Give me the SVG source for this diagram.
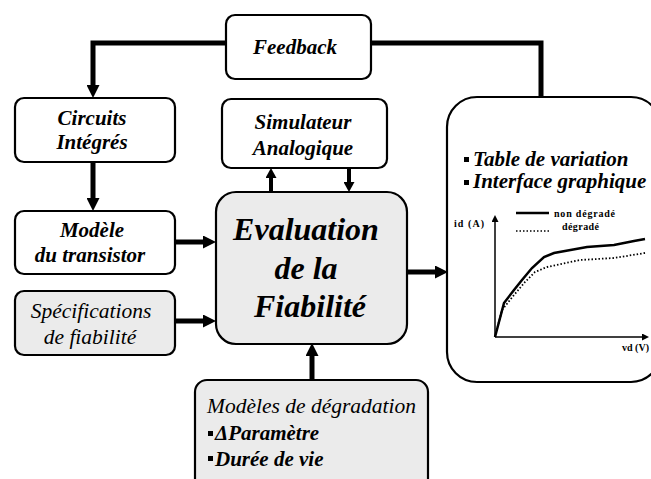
<svg xmlns="http://www.w3.org/2000/svg" width="651" height="479" viewBox="0 0 651 479">
  <style>
    .box { fill: #ffffff; stroke: #000000; stroke-width: 2.2; }
    .grey { fill: #ebebeb; stroke: #000000; stroke-width: 2.2; }
    text { font-family: "Liberation Serif", "Times New Roman", serif; fill: #000000; }
    .t { font-style: italic; font-weight: bold; font-size: 21px; }
    .tr { font-style: italic; font-weight: normal; font-size: 21.5px; }
    .big { font-style: italic; font-weight: bold; font-size: 32px; }
    .small { font-weight: bold; font-size: 10px; }
    .wire { fill: none; stroke: #000000; stroke-width: 5; }
    .wire4 { fill: none; stroke: #000000; stroke-width: 4; }
    .axis { fill: none; stroke: #000000; stroke-width: 1.5; }
    .bullet { fill: #000000; }
  </style>
  <defs>
    <marker id="head" markerUnits="userSpaceOnUse" markerWidth="13" markerHeight="13" refX="0" refY="6.5" orient="auto">
      <path d="M0,0 L13,6.5 L0,13 Z" fill="#000000"/>
    </marker>
    <marker id="headS" markerUnits="userSpaceOnUse" markerWidth="11" markerHeight="11" refX="0" refY="5.5" orient="auto">
      <path d="M0,0 L10,5.5 L0,11 Z" fill="#000000"/>
    </marker>
    <marker id="tiny" markerUnits="userSpaceOnUse" markerWidth="8" markerHeight="8" refX="0" refY="3.5" orient="auto">
      <path d="M0,0 L7,3.5 L0,7 Z" fill="#000000"/>
    </marker>
  </defs>

  <!-- connectors -->
  <g id="connectors">
    <path class="wire" d="M228,43 H93 V85" marker-end="url(#head)"/>
    <path class="wire" d="M370,43 H541 V98"/>
    <path class="wire" d="M93,162 V198" marker-end="url(#head)"/>
    <path class="wire" d="M175,242 H203" marker-end="url(#head)"/>
    <path class="wire" d="M175,321 H203" marker-end="url(#head)"/>
    <path class="wire4" d="M271,193 V178" marker-end="url(#headS)"/>
    <path class="wire4" d="M349,168 V182" marker-end="url(#headS)"/>
    <path class="wire" d="M312,380 V356" marker-end="url(#head)"/>
    <path class="wire" d="M407,272 H435" marker-end="url(#head)"/>
  </g>

  <!-- Feedback -->
  <g id="feedback">
    <rect class="box" x="226" y="15" width="145" height="64" rx="9"/>
    <text class="t" x="295" y="54" text-anchor="middle">Feedback</text>
  </g>

  <!-- Circuits Intégrés -->
  <g id="circuits">
    <rect class="box" x="15" y="98" width="160" height="64" rx="9"/>
    <text class="t" x="92" y="125" text-anchor="middle">Circuits</text>
    <text class="t" x="92" y="149" text-anchor="middle">Intégrés</text>
  </g>

  <!-- Modèle du transistor -->
  <g id="modele-transistor">
    <rect class="box" x="15" y="211" width="160" height="63" rx="9"/>
    <text class="t" x="92" y="237" text-anchor="middle">Modèle</text>
    <text class="t" x="90" y="262" text-anchor="middle">du transistor</text>
  </g>

  <!-- Spécifications de fiabilité -->
  <g id="specifications">
    <rect class="grey" x="15" y="291" width="160" height="64" rx="9"/>
    <text class="tr" x="91" y="318" text-anchor="middle">Spécifications</text>
    <text class="tr" x="90" y="344" text-anchor="middle">de fiabilité</text>
  </g>

  <!-- Simulateur Analogique -->
  <g id="simulateur">
    <rect class="box" x="222" y="99" width="165" height="69" rx="9"/>
    <text class="t" x="303" y="129" text-anchor="middle">Simulateur</text>
    <text class="t" x="303" y="155" text-anchor="middle">Analogique</text>
  </g>

  <!-- Evaluation de la Fiabilité -->
  <g id="evaluation">
    <rect class="grey" x="216" y="192" width="191" height="152" rx="20"/>
    <text class="big" x="306" y="240" text-anchor="middle">Evaluation</text>
    <text class="big" x="306" y="279" text-anchor="middle">de la</text>
    <text class="big" x="310" y="317" text-anchor="middle">Fiabilité</text>
  </g>

  <!-- Modèles de dégradation -->
  <g id="degradation">
    <rect class="grey" x="195" y="380" width="233" height="115" rx="12"/>
    <text class="tr" x="207" y="413">Modèles de dégradation</text>
    <rect class="bullet" x="208" y="431" width="5" height="5"/>
    <text class="t" x="215" y="440">ΔParamètre</text>
    <rect class="bullet" x="208" y="456" width="5" height="5"/>
    <text class="t" x="215" y="466">Durée de vie</text>
  </g>

  <!-- Results: table and graphical interface -->
  <g id="resultats">
    <rect class="box" x="447" y="97" width="214" height="285" rx="30"/>
    <rect class="bullet" x="464" y="157" width="5" height="5"/>
    <text class="t" x="473" y="166">Table de variation</text>
    <rect class="bullet" x="464" y="180" width="5" height="5"/>
    <text class="t" x="473" y="188">Interface graphique</text>

    <!-- id(vd) characteristic -->
    <path class="axis" d="M495,337 V222" marker-end="url(#tiny)"/>
    <path class="axis" d="M495,337 H642" marker-end="url(#tiny)"/>
    <text class="small" x="454" y="227" textLength="30">id (A)</text>
    <text class="small" x="622" y="351" textLength="27">vd (V)</text>

    <line x1="516" y1="213" x2="549" y2="213" stroke="#000000" stroke-width="2.5"/>
    <text class="small" x="554" y="217" textLength="61">non dégradé</text>
    <line x1="516" y1="231" x2="549" y2="231" stroke="#000000" stroke-width="1.6" stroke-dasharray="1.5,2"/>
    <text class="small" x="562" y="230" textLength="37">dégradé</text>

    <path d="M495,337 L504,303 L514,290 L522,280 L532,268 L544,257 L554,253 L587,247 L614,245 L634,241 L645,239" fill="none" stroke="#000000" stroke-width="2.5"/>
    <path d="M495,337 L502,310 L514,295 L525,282 L535,272 L547,267 L580,260 L614,258 L645,253" fill="none" stroke="#000000" stroke-width="1.8" stroke-dasharray="1.5,2"/>
  </g>
</svg>
